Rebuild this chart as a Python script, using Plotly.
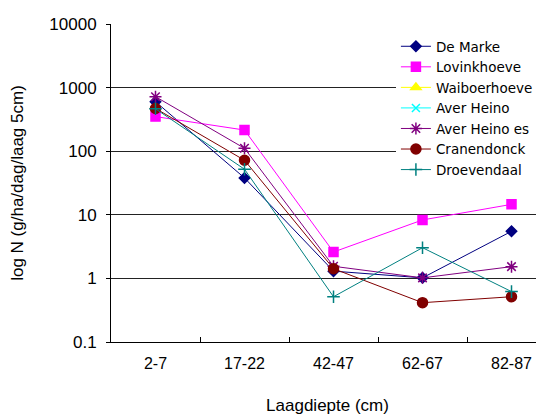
import plotly.graph_objects as go

categories = ["2-7", "17-22", "42-47", "62-67", "82-87"]

series_names = ["De Marke", "Lovinkhoeve", "Waiboerhoeve", "Aver Heino",
                "Aver Heino es", "Cranendonck", "Droevendaal"]

de_marke = [600, 38, 1.3, 1.02, 5.5]
lovinkhoeve = [350, 215, 2.6, 8.3, 14.6]
waiboerhoeve = [None, None, None, None, None]
aver_heino = [None, None, None, None, None]
aver_heino_es = [720, 111, 1.55, 1.02, 1.53]
cranendonck = [470, 72, 1.42, 0.415, 0.515]
droevendaal = [465, 52, 0.515, 3.04, 0.62]

y_tickvals = [0.1, 1, 10, 100, 1000, 10000]
y_ticktext = ["0.1", "1", "10", "100", "1000", "10000"]
grid_vals = [1, 10, 100, 1000]

colors = ["#000080", "#FF00FF", "#FFFF00", "#00FFFF", "#800080", "#800000", "#008080"]
symbols = ["diamond", "square", "triangle-up", "x-thin-open", "asterisk-open",
           "circle", "cross-thin-open"]
sizes = [8, 9, 9, 8, 10, 10, 9]
data = [de_marke, lovinkhoeve, waiboerhoeve, aver_heino, aver_heino_es,
        cranendonck, droevendaal]

FONT = "Liberation Sans"

fig = go.Figure()
for name, vals, c, s, sz in zip(series_names, data, colors, symbols, sizes):
    fig.add_trace(go.Scatter(
        x=categories, y=vals, name=name, mode="lines+markers",
        line=dict(color=c, width=1),
        marker=dict(symbol=s, color=c, size=sz, line=dict(color=c, width=1.5)),
    ))

# helper trace to keep overlay grid axis active
fig.add_trace(go.Scatter(x=categories, y=[None]*5, yaxis="y2", showlegend=False,
                         hoverinfo="skip"))

fig.update_layout(
    width=536, height=409,
    margin=dict(l=103, r=0, t=16, b=75),
    paper_bgcolor="white", plot_bgcolor="white",
    font=dict(family=FONT, size=16, color="black"),
    showlegend=True,
    legend=dict(x=0.658, y=0.978, xanchor="left", yanchor="top",
                bgcolor="white", borderwidth=0,
                font=dict(family="DejaVu Sans", size=13.5, color="black"),
                tracegroupgap=0),
    xaxis=dict(type="category", range=[-0.5, 4.365],
               showline=True, linecolor="black", linewidth=1,
               ticks="inside", tickson="boundaries", ticklen=5,
               tickcolor="black", showgrid=False,
               ticklabelstandoff=7,
               title=dict(text="Laagdiepte (cm)", font=dict(size=17), standoff=27),
               tickfont=dict(size=16)),
    yaxis=dict(type="log", range=[-1, 4],
               tickvals=y_tickvals, ticktext=y_ticktext,
               showline=True, linecolor="black", linewidth=1,
               ticks="outside", ticklen=4, tickcolor="black",
               showgrid=False, zeroline=False,
               ticklabelstandoff=6,
               title=dict(text="log N (g/ha/dag/laag 5cm)", font=dict(size=17), standoff=21),
               tickfont=dict(size=17)),
    yaxis2=dict(type="log", range=[-1, 4], overlaying="y",
                tickvals=grid_vals, showticklabels=False, ticks="",
                showgrid=True, gridcolor="#222222", gridwidth=1,
                showline=False, zeroline=False),
)

fig.write_html("out.html")
